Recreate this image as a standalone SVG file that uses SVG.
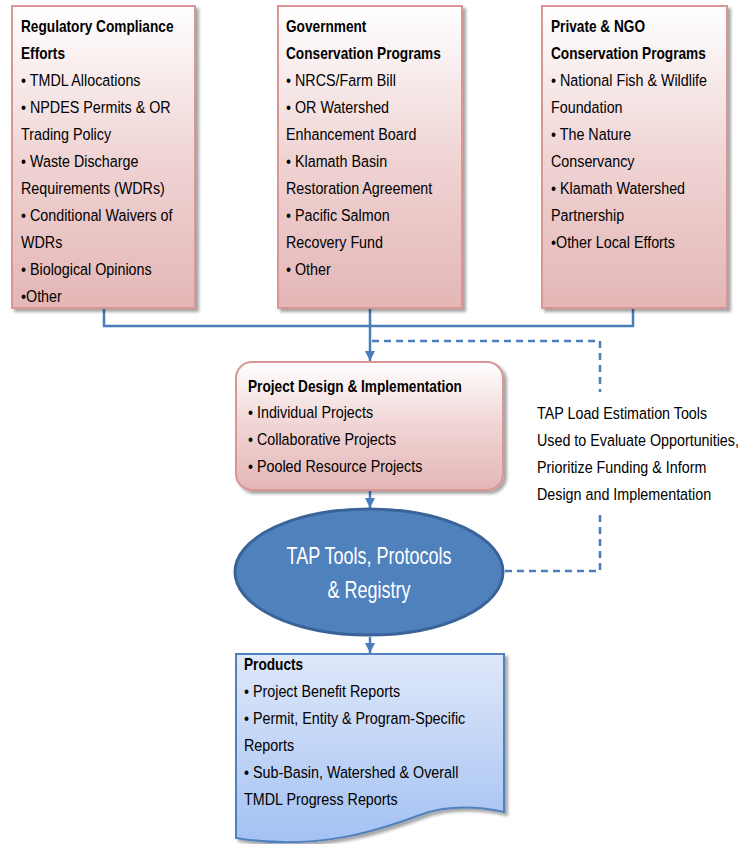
<svg xmlns="http://www.w3.org/2000/svg" width="744" height="844" viewBox="0 0 744 844">
<defs>
<linearGradient id="pink" x1="0" y1="0" x2="0" y2="1">
<stop offset="0" stop-color="#ffffff"/>
<stop offset="0.5" stop-color="#f0d4d4"/>
<stop offset="1" stop-color="#e4b6b6"/>
</linearGradient>
<linearGradient id="blue" x1="0" y1="0" x2="0" y2="1">
<stop offset="0" stop-color="#dfe8f9"/>
<stop offset="1" stop-color="#a3c1f3"/>
</linearGradient>
<filter id="sh" x="-10%" y="-10%" width="130%" height="130%">
<feDropShadow dx="3" dy="3" stdDeviation="1.5" flood-color="#000" flood-opacity="0.35"/>
</filter>
<marker id="arr" viewBox="0 0 10 10" refX="10" refY="5" markerWidth="4" markerHeight="4" orient="auto" markerUnits="strokeWidth">
<path d="M0,0 L10,5 L0,10 z" fill="#4a7ebb"/>
</marker>
</defs>
<style>
.box{fill:url(#pink);stroke:#d99694;stroke-width:2;filter:url(#sh)}
.t text{font-family:"Liberation Sans",Arial,sans-serif;font-size:17px;fill:#000}
.b{font-weight:bold}
.con{fill:none;stroke:#4a7ebb;stroke-width:2.5}
.dash{fill:none;stroke:#4a7ebb;stroke-width:2.5;stroke-dasharray:7,5}
</style>
<g id="connectors">
<path class="con" d="M104,308 V326 H633 V308"/>
<path class="con" d="M370,308 V361" marker-end="url(#arr)"/>
<path class="con" d="M370,490 V508" marker-end="url(#arr)"/>
<path class="con" d="M370,637 V653" marker-end="url(#arr)"/>
<path class="dash" d="M372,341 H600 V392"/>
<path class="dash" d="M600,515 V571 H504"/>
</g>
<g id="regulatory">
<rect class="box" x="12" y="6" width="183" height="302"/>
<g class="t" transform="translate(21,0) scale(0.842,1)">
<text class="b" x="0" y="32" transform="scale(0.955,1)">Regulatory Compliance</text>
<text class="b" x="0" y="59" transform="scale(0.955,1)">Efforts</text>
<text x="0" y="86">• TMDL Allocations</text>
<text x="0" y="113">• NPDES Permits &amp; OR</text>
<text x="0" y="140">Trading Policy</text>
<text x="0" y="167">• Waste Discharge</text>
<text x="0" y="194">Requirements (WDRs)</text>
<text x="0" y="221">• Conditional Waivers of</text>
<text x="0" y="248">WDRs</text>
<text x="0" y="275">• Biological Opinions</text>
<text x="0" y="302">•Other</text>
</g>
</g>
<g id="government">
<rect class="box" x="278" y="6" width="184" height="302"/>
<g class="t" transform="translate(286,0) scale(0.842,1)">
<text class="b" x="0" y="32" transform="scale(0.955,1)">Government</text>
<text class="b" x="0" y="59" transform="scale(0.955,1)">Conservation Programs</text>
<text x="0" y="86">• NRCS/Farm Bill</text>
<text x="0" y="113">• OR Watershed</text>
<text x="0" y="140">Enhancement Board</text>
<text x="0" y="167">• Klamath Basin</text>
<text x="0" y="194">Restoration Agreement</text>
<text x="0" y="221">• Pacific Salmon</text>
<text x="0" y="248">Recovery Fund</text>
<text x="0" y="275">• Other</text>
</g>
</g>
<g id="private">
<rect class="box" x="542" y="6" width="185" height="302"/>
<g class="t" transform="translate(551,0) scale(0.842,1)">
<text class="b" x="0" y="32" transform="scale(0.955,1)">Private &amp; NGO</text>
<text class="b" x="0" y="59" transform="scale(0.955,1)">Conservation Programs</text>
<text x="0" y="86">• National Fish &amp; Wildlife</text>
<text x="0" y="113">Foundation</text>
<text x="0" y="140">• The Nature</text>
<text x="0" y="167">Conservancy</text>
<text x="0" y="194">• Klamath Watershed</text>
<text x="0" y="221">Partnership</text>
<text x="0" y="248">•Other Local Efforts</text>
</g>
</g>
<g id="project">
<rect class="box" x="236" y="362" width="267" height="128" rx="16"/>
<g class="t" transform="translate(248,0) scale(0.842,1)">
<text class="b" x="0" y="392" transform="scale(0.955,1)">Project Design &amp; Implementation</text>
<text x="0" y="418">• Individual Projects</text>
<text x="0" y="445">• Collaborative Projects</text>
<text x="0" y="472">• Pooled Resource Projects</text>
</g>
</g>
<g id="tapnote">
<g class="t" transform="translate(537,0) scale(0.842,1)">
<text x="0" y="419">TAP Load Estimation Tools</text>
<text x="0" y="446">Used to Evaluate Opportunities,</text>
<text x="0" y="473">Prioritize Funding &amp; Inform</text>
<text x="0" y="500">Design and Implementation</text>
</g>
</g>
<g id="tap">
<ellipse cx="369" cy="572" rx="134" ry="63" fill="#4f81bd" stroke="#3a6499" stroke-width="3"/>
<g class="t" transform="translate(369,0) scale(0.75,1)">
<text x="0" y="564" text-anchor="middle" style="font-size:24px;fill:#fff">TAP Tools, Protocols</text>
<text x="0" y="598" text-anchor="middle" style="font-size:24px;fill:#fff">&amp; Registry</text>
</g>
</g>
<g id="products">
<path d="M236,654 H504 V812 C480,807 450,804 420,815 C385,828 320,852 236,838 Z" fill="url(#blue)" stroke="#4f81bd" stroke-width="2" filter="url(#sh)"/>
<g class="t" transform="translate(244,0) scale(0.842,1)">
<text class="b" x="0" y="670" transform="scale(0.955,1)">Products</text>
<text x="0" y="697">• Project Benefit Reports</text>
<text x="0" y="724">• Permit, Entity &amp; Program-Specific</text>
<text x="0" y="751">Reports</text>
<text x="0" y="778">• Sub-Basin, Watershed &amp; Overall</text>
<text x="0" y="805">TMDL Progress Reports</text>
</g>
</g>
</svg>
